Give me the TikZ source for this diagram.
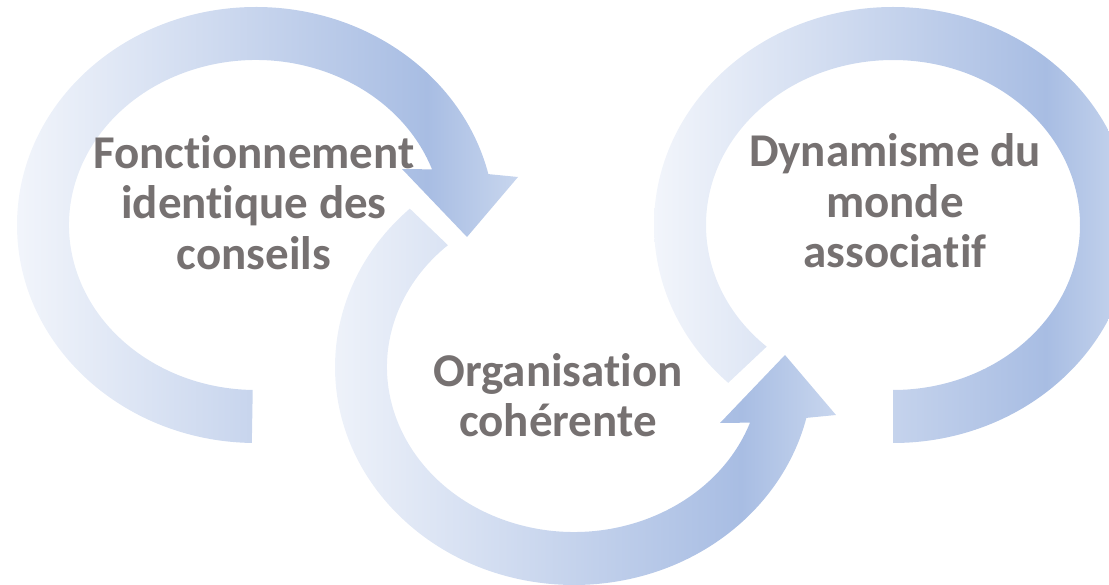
\documentclass[tikz,border=0pt]{standalone}
\usepackage{fontspec}
\setmainfont{Carlito}[Ligatures={NoCommon,NoContextual,NoRare},RawFeature={-liga;-clig;-dlig}]
\usetikzlibrary{positioning}
\definecolor{ringL}{RGB}{242,245,251}
\definecolor{ringD}{RGB}{168,189,227}
\definecolor{ringR}{RGB}{200,214,238}
\definecolor{txtgray}{RGB}{118,113,113}
\pgfdeclarehorizontalshading{ringshade}{100bp}{color(0bp)=(ringL); color(25bp)=(ringL); color(66bp)=(ringD); color(75bp)=(ringR); color(100bp)=(ringR)}

\begin{document}
\begin{tikzpicture}[x=1pt,y=1pt]
\tikzstyle{ring}=[shading=ringshade, draw=none]
\tikzstyle{lbl}=[align=center, text=txtgray, inner sep=0pt, font=\fontsize{47}{50.5}\selectfont\bfseries]
\useasboundingbox (0,0) rectangle (1109,-585);
\clip (0,0) rectangle (1109,-585);
  % first ring, head turned down on the right
  \begin{scope}[shift={(256,-225)}]
  \shade[ring] (269:239 and 218) arc[start angle=269, end angle=13.5, x radius=239, y radius=218]
      -- (262,48) -- (211,-12) -- (146,56) -- (19.7:187 and 165)
      arc[start angle=19.7, end angle=269, x radius=187, y radius=165] -- cycle;
  \end{scope}
  % second ring, head turned up on the right
  \begin{scope}[shift={(574,-367)}]
  \shade[ring] (133.4:239 and 218) arc[start angle=133.4, end angle=346.5, x radius=239, y radius=218]
      -- (262,-48) -- (211,12) -- (146,-56) -- (340.3:187 and 165)
      arc[start angle=340.3, end angle=132.4, x radius=187, y radius=165] -- cycle;
  \end{scope}
  % third ring
  \begin{scope}[shift={(893,-225)}]
  \shade[ring] (-90:239 and 218) arc[start angle=-90, end angle=226.4, x radius=239, y radius=218]
      -- (227.5:187 and 165)
      arc[start angle=227.5, end angle=-90, x radius=187, y radius=165] -- cycle;
  \end{scope}
  \node[lbl] (Fonct) at (254,-202.5) {Fonctionnement\\identique des\\conseils};
  \node[lbl] (Orga) at (558,-395) {Organisation\\cohérente};
  \node[lbl] (Dyna) at (895,-201) {Dynamisme du\\monde\\associatif};
\end{tikzpicture}
\end{document}
